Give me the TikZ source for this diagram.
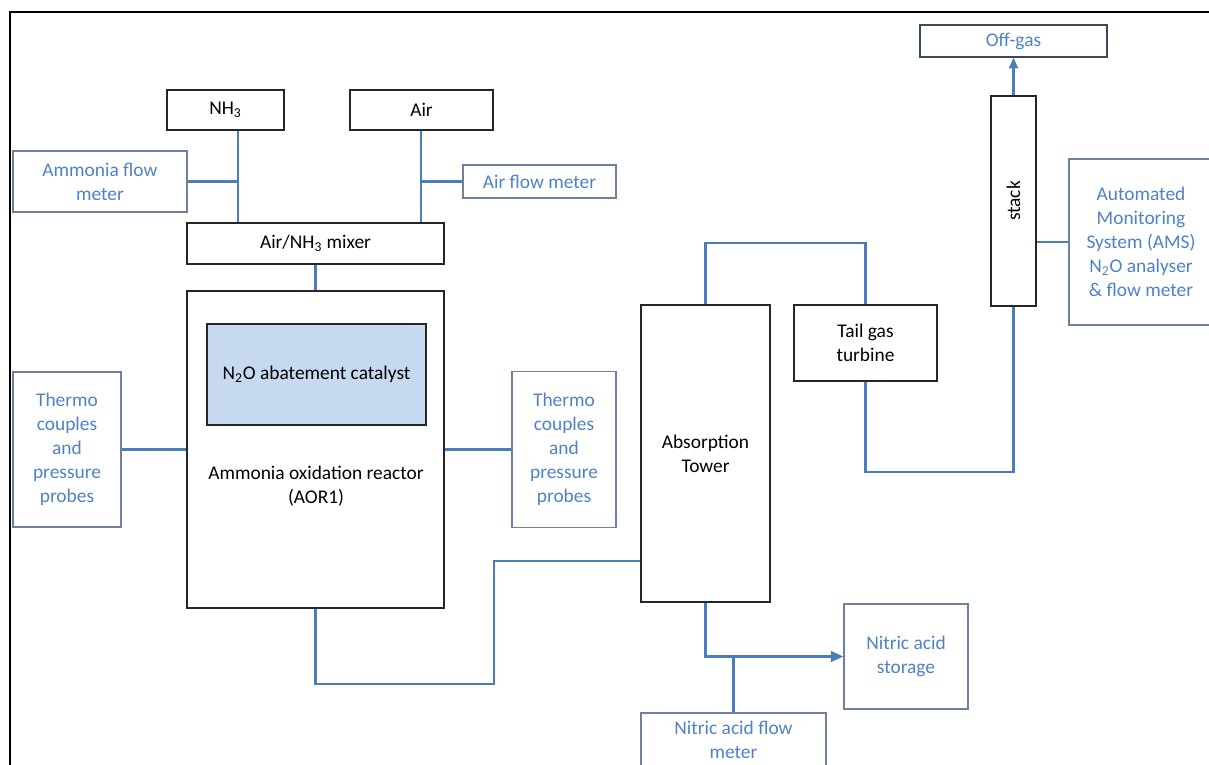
\documentclass[tikz,border=0pt]{standalone}
\usepackage{fontspec}
\setmainfont{Carlito}
\usetikzlibrary{arrows.meta}

\newcommand\pxl{0.567pt}
\definecolor{lineblue}{RGB}{74,126,187}
\definecolor{textblue}{RGB}{79,129,199}
\definecolor{metborder}{RGB}{110,128,158}
\definecolor{darkborder}{RGB}{60,72,92}
\definecolor{catfill}{RGB}{198,217,240}

\begin{document}
\begin{tikzpicture}[x=0.567pt,y=-0.567pt,
  every node/.style={font=\fontsize{11}{13.6}\selectfont, align=center, inner sep=0pt},
  size/.style 2 args={minimum width=#1*\pxl, minimum height=#2*\pxl},
  unit/.style={draw=black!85, line width=0.8pt},
  meter/.style={draw=metborder, line width=0.8pt, text=textblue},
  flow/.style={draw=lineblue, line width=1.3pt}]

	\useasboundingbox (0,0) rectangle (1209,764);

  % rammen
	\draw[line width=1.4pt] (10,790) -- (10,12) -- (1230,12);

  % fødning
	\node[unit,size={117}{40}] (nh3) at (225.5,110) {NH\textsubscript{3}};
	\node[unit,size={143}{40}] (air) at (421.5,110) {Air};
	\node[meter,size={174}{61}] (amf) at (100,181.5) {Ammonia flow\\meter};
	\node[meter,size={153}{33}] (afm) at (539.5,181.5) {Air flow meter};
	\node[unit,size={257}{41}] (mixer) at (315.5,243.5) {Air/NH\textsubscript{3} mixer};

  % reaktor
	\node[unit,size={257}{317}] (reactor) at (315.5,449.5) {};
	\node[unit,fill=catfill,size={219}{101}] (cat) at (316.5,374.5) {N\textsubscript{2}O abatement catalyst};
	\node (aor) at (316,486) {Ammonia oxidation reactor\\(AOR1)};
	\node[meter,size={108}{155}] (thl) at (67,449.5) {Thermo\\couples\\and\\pressure\\probes};
	\node[meter,size={104}{156}] (thr) at (564,449.5) {Thermo\\couples\\and\\pressure\\probes};

  % absorption og turbine
	\node[unit,size={129}{297}] (tower) at (705.5,453.5) {Absorption\\Tower};
	\node[unit,size={143}{76}] (turbine) at (865.5,343) {Tail gas\\turbine};
	\node[meter,size={124}{105}] (store) at (906,656.5) {Nitric acid\\storage};
	\node[meter,size={185}{54}] (nafm) at (733.5,740) {Nitric acid flow\\meter};

  % skorsten
	\node[unit,size={45}{210}] (stack) at (1013.5,201) {};
	\node[rotate=90] (stacktxt) at (stack) {stack};
	\node[meter,draw=darkborder,size={187}{32}] (offgas) at (1013.5,41) {Off-gas};
	\node[meter,size={144}{166}] (ams) at (1141,242) {Automated\\Monitoring\\System (AMS)\\N\textsubscript{2}O analyser\\\& flow meter};

  % forbindelser
	\coordinate (jn) at (238,181.5);
	\coordinate (ja) at (421,181.5);
	\draw[flow] (nh3.south -| jn) -- (mixer.north -| jn);
	\draw[flow] (amf.east) -- (jn);
	\draw[flow] (air.south -| ja) -- (mixer.north -| ja);
	\draw[flow] (ja) -- (afm.west);
	\draw[flow] (mixer.south) -- (reactor.north);
	\draw[flow] (thl.east) -- (reactor.west);
	\draw[flow] (reactor.east) -- (thr.west);

	\coordinate (r1) at (494,684);
	\coordinate (r2) at (494,561);
	\draw[flow] (reactor.south) |- (r1) -- (r2) -- (r2 -| tower.west);

	\coordinate (t1) at (705,243);
	\coordinate (t2) at (864,472);
	\draw[flow] (tower.north) -- (tower.north |- t1) -| (turbine.north);
	\draw[flow] (turbine.south) -- (turbine.south |- t2) -| (stack.south);
	\draw[flow] (ams.west -| stack.east) -- (ams.west);
	\draw[flow,-{Triangle[length=6pt,width=5pt]}] (stack.north) -- (offgas.south);

	\draw[flow,-{Triangle[length=7pt,width=6pt]}] (tower.south) |- (store.west);
	\draw[flow] (nafm.north) -- (nafm.north |- store.west);

\end{tikzpicture}
\end{document}
